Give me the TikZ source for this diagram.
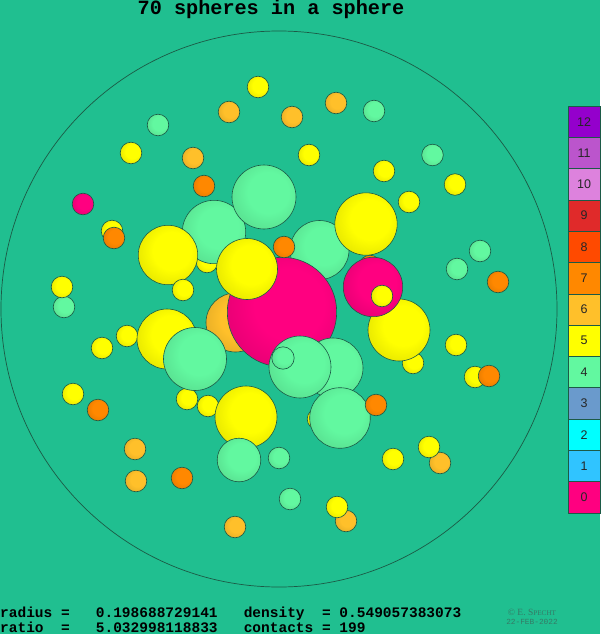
\documentclass[tikz,border=0pt]{standalone}
\usepackage{fontspec}
\setmainfont{Liberation Serif}
\setsansfont{Liberation Sans}
\setmonofont{Liberation Mono}
\definecolor{bg}{HTML}{20BF90}
\definecolor{rim}{HTML}{1C5A46}
\definecolor{note}{HTML}{357A66}
\definecolor{c0}{HTML}{FF0080}
\definecolor{c1}{HTML}{30C4FF}
\definecolor{c2}{HTML}{00FFFF}
\definecolor{c3}{HTML}{6A9ACC}
\definecolor{c4}{HTML}{62F8A0}
\definecolor{c5}{HTML}{FFFF00}
\definecolor{c6}{HTML}{FFC02A}
\definecolor{c7}{HTML}{FF8800}
\definecolor{c8}{HTML}{FF4A00}
\definecolor{c9}{HTML}{E02A2A}
\definecolor{c10}{HTML}{DD82DD}
\definecolor{c11}{HTML}{BB55CC}
\definecolor{c12}{HTML}{9400CC}
\colorlet{spin}{c5}
\colorlet{spout}{c5}
\pgfdeclareradialshading[spin,spout]{sph}{\pgfpoint{4bp}{4bp}}{color(0bp)=(spin); color(16bp)=(spin); color(50bp)=(spout); color(100bp)=(spout)}
\tikzset{
  ballrim/.style={shading=sph, draw=rim, line width=0.6pt},
  legbox/.style={draw=rim, line width=0.5pt, minimum width=32pt, minimum height=31.3pt, inner sep=0pt, font=\sffamily\fontsize{12.5}{13}\selectfont, text=black!85},
  infotext/.style={anchor=base west, inner sep=0pt, font=\ttfamily\bfseries\fontsize{14.5}{15}\selectfont}
}
% x, y, radius, colour
\newcommand{\ball}[4]{\colorlet{spin}{#4}\colorlet{spout}{#4!78!black}%
  \shadedraw[ballrim] (#1,#2) circle[radius=#3];}
\begin{document}
\begin{tikzpicture}[x=1pt,y=-1pt]
  \fill[bg] (0,0) rectangle (600,634);
  \useasboundingbox (0,0) rectangle (600,634);
  \node[anchor=base, inner sep=0pt, font=\ttfamily\bfseries\fontsize{20.2}{22}\selectfont] (title) at (271,14.8) {70 spheres in a sphere};
  \draw[rim, line width=0.7pt] (279,309) coordinate (O) circle[radius=278];
  % hidden ones
  \ball{207}{262}{10.8}{c5}
  \ball{370}{266}{10.8}{c7}
  \ball{318}{419}{10.8}{c5}
  % small spheres
  \ball{258}{87}{10.8}{c5}
  \ball{229}{112}{10.8}{c6}
  \ball{292}{117}{10.8}{c6}
  \ball{336}{103}{10.8}{c6}
  \ball{374}{111}{10.8}{c4}
  \ball{158}{125}{10.8}{c4}
  \ball{131}{153}{10.8}{c5}
  \ball{193}{158}{10.8}{c6}
  \ball{309}{155}{10.8}{c5}
  \ball{432.5}{155}{10.8}{c4}
  \ball{384}{171}{10.8}{c5}
  \ball{455}{184.5}{10.8}{c5}
  \ball{204}{186}{10.8}{c7}
  \ball{409}{202}{10.8}{c5}
  \ball{83}{204}{10.8}{c0}
  \ball{112}{231}{10.8}{c5}
  \ball{114}{238}{10.8}{c7}
  \ball{480}{251}{10.8}{c4}
  \ball{457}{269}{10.8}{c4}
  \ball{498}{282}{10.8}{c7}
  \ball{64}{307}{10.8}{c4}
  \ball{62}{287}{10.8}{c5}
  \ball{127}{336}{10.8}{c5}
  \ball{102}{348}{10.8}{c5}
  \ball{413}{363}{10.8}{c5}
  \ball{456}{345}{10.8}{c5}
  \ball{475}{377}{10.8}{c5}
  \ball{489}{376}{10.8}{c7}
  \ball{73}{394}{10.8}{c5}
  \ball{98}{410}{10.8}{c7}
  \ball{187}{399}{10.8}{c5}
  \ball{208}{406}{10.8}{c5}
  \ball{440}{463}{10.8}{c6}
  \ball{429}{447}{10.8}{c5}
  \ball{393}{459}{10.8}{c5}
  \ball{135}{449}{10.8}{c6}
  \ball{279}{458}{10.8}{c4}
  \ball{136}{481}{10.8}{c6}
  \ball{182}{478}{10.8}{c7}
  \ball{290}{499}{10.8}{c4}
  \ball{346}{521}{10.8}{c6}
  \ball{337}{507}{10.8}{c5}
  \ball{235}{527}{10.8}{c6}
  % large spheres
  \ball{235.5}{322.5}{29.5}{c6}
  \ball{214}{232}{31.7}{c4}
  \ball{264}{197}{32}{c4}
  \ball{319.5}{250}{29.5}{c4}
  \ball{168}{255}{29.7}{c5}
  \ball{183}{290}{10.8}{c5}
  \ball{366}{224}{31.2}{c5}
  \ball{167}{339}{30}{c5}
  \ball{195}{359}{31.5}{c4}
  \ball{399}{330}{31}{c5}
  \ball{373}{287}{29.7}{c0}
  \ball{382}{296}{10.8}{c5}
  \ball{282}{312}{54.7}{c0}
  \ball{247}{269}{30.5}{c5}
  \ball{284}{247}{10.8}{c7}
  \ball{333}{368}{30}{c4}
  \ball{300}{367}{31}{c4}
  \ball{283}{358}{11.2}{c4}
  \ball{340}{418}{30.3}{c4}
  \ball{376}{405}{10.8}{c7}
  \ball{246}{417}{31}{c5}
  \ball{239}{460}{21.8}{c4}
  % legend
  \node[legbox, fill=c12] (l12) at (584,121.65) {12};
  \node[legbox, fill=c11] (l11) at (584,152.95) {11};
  \node[legbox, fill=c10] (l10) at (584,184.25) {10};
  \node[legbox, fill=c9] (l9) at (584,215.55) {9};
  \node[legbox, fill=c8] (l8) at (584,246.85) {8};
  \node[legbox, fill=c7] (l7) at (584,278.15) {7};
  \node[legbox, fill=c6] (l6) at (584,309.45) {6};
  \node[legbox, fill=c5] (l5) at (584,340.75) {5};
  \node[legbox, fill=c4] (l4) at (584,372.05) {4};
  \node[legbox, fill=c3] (l3) at (584,403.35) {3};
  \node[legbox, fill=c2] (l2) at (584,434.65) {2};
  \node[legbox, fill=c1] (l1) at (584,465.95) {1};
  \node[legbox, fill=c0] (l0) at (584,497.25) {0};
  % numbers below
  \node[infotext] (rad) at (0,617) {radius~=~~~0.198688729141~~~density~~=~0.549057383073};
  \node[infotext] (rat) at (0,632) {ratio~~=~~~5.032998118833~~~contacts~=~199};
  \node[anchor=base, inner sep=0pt, text=note, font=\fontsize{9.5}{10}\selectfont] (copy) at (532,615) {© E. S{\fontsize{7.2}{8}\selectfont PECHT}};
  \node[anchor=base, inner sep=0pt, text=note, font=\ttfamily\fontsize{7.8}{8}\selectfont] (date) at (532,624.5) {22-FEB-2022};
\end{tikzpicture}
\end{document}
